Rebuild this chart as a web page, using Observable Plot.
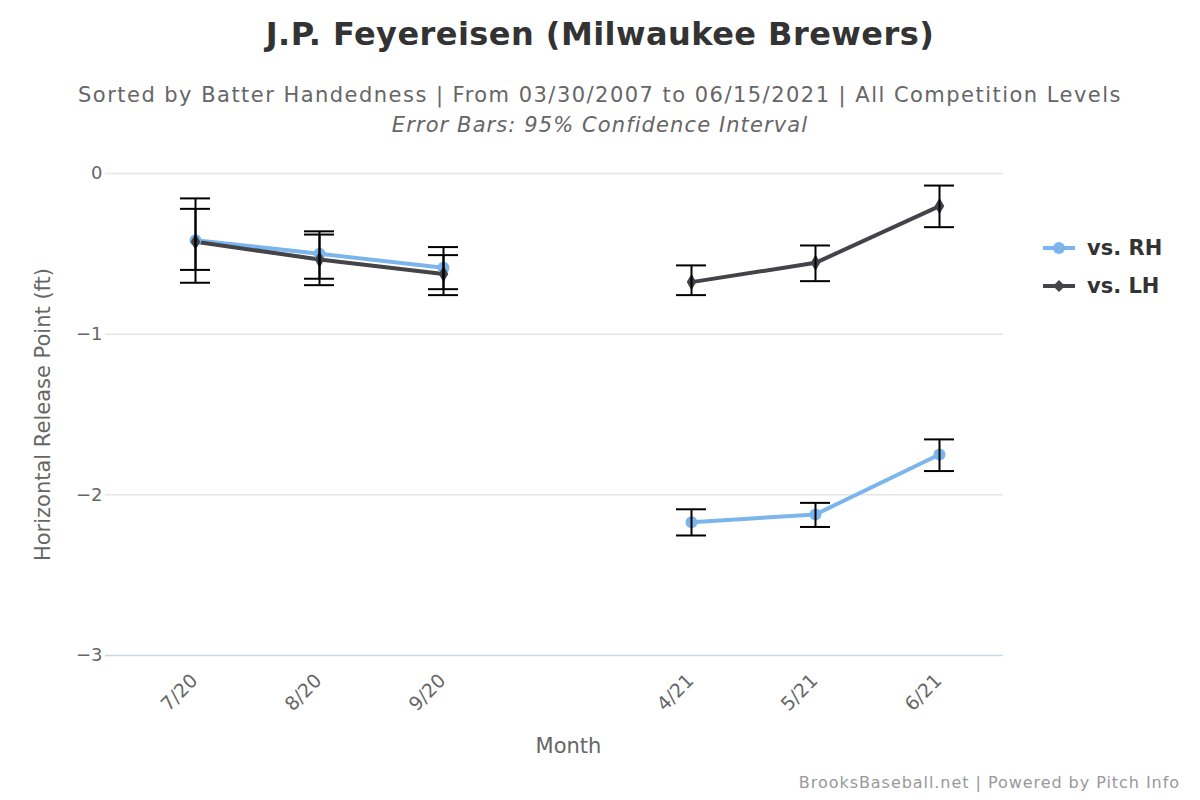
<!DOCTYPE html>
<html>
<head>
<meta charset="utf-8">
<script src="https://cdn.jsdelivr.net/npm/d3@7"></script>
<script src="https://cdn.jsdelivr.net/npm/@observablehq/plot@0.6"></script>
<style>
  body { margin: 0; background: #fff; font-family: "DejaVu Sans", sans-serif; }
  #wrap { position: relative; width: 1200px; height: 800px; overflow: hidden; }
  #head { position: relative; height: 150px; }
  .t { position: absolute; left: 0; width: 1200px; text-align: center; white-space: nowrap; }
  #title { top: 15px; font-size: 32px; font-weight: bold; color: #333; letter-spacing: 0.45px; }
  #sub { top: 83px; font-size: 21px; color: #666; letter-spacing: 1.47px; }
  #sub2 { top: 113px; font-size: 21px; color: #666; font-style: italic; letter-spacing: 1.1px; }
  #legend { position: absolute; left: 1043px; top: 229px; }
  .li { display: flex; align-items: center; height: 38px; font-size: 21px; font-weight: bold; color: #333; }
  .li svg { margin-right: 10px; }
  #credit { position: absolute; right: 20px; top: 773px; font-size: 16px; color: #999; letter-spacing: 0.95px; }
</style>
</head>
<body>
<div id="wrap">
  <div id="head">
    <div class="t" id="title">J.P. Feyereisen (Milwaukee Brewers)</div>
    <div class="t" id="sub">Sorted by Batter Handedness | From 03/30/2007 to 06/15/2021 | All Competition Levels</div>
    <div class="t" id="sub2">Error Bars: 95% Confidence Interval</div>
  </div>
  <div id="chart"></div>
  <div id="legend"></div>
  <div id="credit">BrooksBaseball.net | Powered by Pitch Info</div>
</div>
<script>
// Categories (with an empty slot between the seasons, as in the source chart)
const months = ["7/20", "8/20", "9/20", "gap", "4/21", "5/21", "6/21"];
const tickMonths = ["7/20", "8/20", "9/20", "4/21", "5/21", "6/21"];
const yTicks = [0, -1, -2, -3];

// vs. RH
const rhMonths = ["7/20", "8/20", "9/20", "4/21", "5/21", "6/21"];
const rhValues = [-0.415, -0.50, -0.587, -2.17, -2.122, -1.749];
const rhLow    = [-0.60, -0.655, -0.72, -2.253, -2.20, -1.852];
const rhHigh   = [-0.22, -0.36, -0.458, -2.09, -2.05, -1.655];

// vs. LH
const lhMonths = ["7/20", "8/20", "9/20", "4/21", "5/21", "6/21"];
const lhValues = [-0.425, -0.535, -0.625, -0.676, -0.556, -0.203];
const lhLow    = [-0.68, -0.695, -0.757, -0.757, -0.67, -0.334];
const lhHigh   = [-0.155, -0.38, -0.508, -0.572, -0.448, -0.075];

const seriesNames = ["vs. RH", "vs. LH"];
const colors = ["#7cb5ec", "#434348"];

function build(name, ms, v, lo, hi) {
  return ms.map((m, i) => ({series: name, month: m, value: v[i], low: lo[i], high: hi[i],
    season: m.endsWith("/20") ? "2020" : "2021"}));
}
const rh = build("vs. RH", rhMonths, rhValues, rhLow, rhHigh);
const lh = build("vs. LH", lhMonths, lhValues, lhLow, lhHigh);
const all = [...rh, ...lh];

const chart = Plot.plot({
  width: 1200,
  height: 650,
  marginLeft: 105,
  marginRight: 197,
  marginTop: 23,
  marginBottom: 145,
  style: {fontFamily: "DejaVu Sans, sans-serif", background: "white", overflow: "visible"},
  x: {type: "band", domain: months, range: [133, 1001], padding: 0},
  y: {domain: [-3, 0]},
  marks: [
    Plot.ruleY(yTicks.filter(t => t !== -3), {stroke: "#e6e6e6", strokeWidth: 1.5}),
    Plot.ruleY([-3], {stroke: "#ccd6eb", strokeWidth: 1.5}),
    Plot.axisY({ticks: yTicks, tickSize: 0, tickPadding: 3, label: null, fontSize: 18, color: "#666",
      tickFormat: d => d === 0 ? "0" : "\u2212" + Math.abs(d)}),
    Plot.axisX({ticks: tickMonths, tickSize: 0, tickPadding: 8, tickRotate: -45, label: null, fontSize: 19, color: "#666", dx: -1, dy: 14}),
    Plot.text(["Horizontal Release Point (ft)"], {frameAnchor: "left", textAnchor: "middle", dx: -62, rotate: -90, fontSize: 21, fill: "#666", letterSpacing: "0.3px"}),
    Plot.text(["Month"], {frameAnchor: "bottom", dx: 14, dy: 97, fontSize: 21, fill: "#666", letterSpacing: "1px"}),
    Plot.line(rh, {x: "month", y: "value", z: "season", stroke: colors[0], strokeWidth: 4}),
    Plot.line(lh, {x: "month", y: "value", z: "season", stroke: colors[1], strokeWidth: 4}),
    Plot.dot(rh, {x: "month", y: "value", r: 6, fill: colors[0], symbol: "circle"}),
    Plot.dot(lh, {x: "month", y: "value", r: 5, fill: colors[1], symbol: "diamond"}),
    Plot.ruleX(all, {x: "month", y1: "low", y2: "high", stroke: "black", strokeWidth: 2}),
    Plot.tickY(all, {x: "month", y: "low", stroke: "black", strokeWidth: 2, insetLeft: 47, insetRight: 47}),
    Plot.tickY(all, {x: "month", y: "high", stroke: "black", strokeWidth: 2, insetLeft: 47, insetRight: 47})
  ]
});
document.getElementById("chart").appendChild(chart);

// legend
const leg = document.getElementById("legend");
seriesNames.forEach((n, i) => {
  const row = document.createElement("div");
  row.className = "li";
  const sym = i === 0
    ? `<circle cx="16" cy="8" r="6" fill="${colors[i]}"/>`
    : `<path d="M16 2 L22 8 L16 14 L10 8 Z" fill="${colors[i]}"/>`;
  row.innerHTML = `<svg width="34" height="16"><line x1="0" x2="32" y1="8" y2="8" stroke="${colors[i]}" stroke-width="4"/>${sym}</svg><span>${n}</span>`;
  leg.appendChild(row);
});
</script>
</body>
</html>
